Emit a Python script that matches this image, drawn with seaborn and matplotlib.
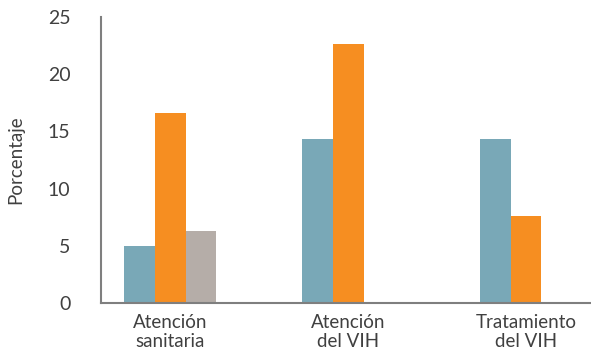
import matplotlib
matplotlib.use("Agg")
import matplotlib.pyplot as plt
import seaborn as sns
import pandas as pd
import numpy as np

categories = ["Atención\nsanitaria", "Atención\ndel VIH", "Tratamiento\ndel VIH"]
series_names = ["Serie 1", "Serie 2", "Serie 3"]
serie_1 = [5.0, 14.3, 14.3]
serie_2 = [16.6, 22.6, 7.6]
serie_3 = [6.3, np.nan, np.nan]
colors = ["#79A8B7", "#F68E21", "#B5ADA8"]
yticks = [0, 5, 10, 15, 20, 25]

rows = []
for name, vals in zip(series_names, [serie_1, serie_2, serie_3]):
    for cat, v in zip(categories, vals):
        rows.append({"categoria": cat, "serie": name, "valor": v})
df = pd.DataFrame(rows)

sns.set_theme(style="white")
plt.rcParams["font.family"] = ["Lato", "DejaVu Sans"]
text_color = "#404040"

fig = plt.figure(figsize=(5.91, 3.54), dpi=100)
ax = fig.add_axes([0.171, 0.144, 0.829, 0.808])

sns.barplot(data=df, x="categoria", y="valor", hue="serie",
            order=categories, hue_order=series_names,
            palette=colors, width=0.52, saturation=1,
            legend=False, ax=ax, linewidth=0)

ax.set_ylim(0, 25)
ax.set_xlim(-0.388, 2.365)
ax.set_yticks(yticks)
ax.set_yticklabels([str(t) for t in yticks], fontsize=14, color=text_color)
ax.tick_params(axis="y", length=0, pad=22)
ax.tick_params(axis="x", length=0, pad=8, labelsize=13.5, labelcolor=text_color)
for lbl in ax.get_xticklabels():
    lbl.set_linespacing(1.15)

ax.set_xlabel("")
ax.set_ylabel("Porcentaje", fontsize=13.5, color=text_color, labelpad=17)

for side in ["top", "right"]:
    ax.spines[side].set_visible(False)
for side in ["left", "bottom"]:
    ax.spines[side].set_color("#7f7f7f")
    ax.spines[side].set_linewidth(1.5)

fig.savefig("out.png", dpi=100)
